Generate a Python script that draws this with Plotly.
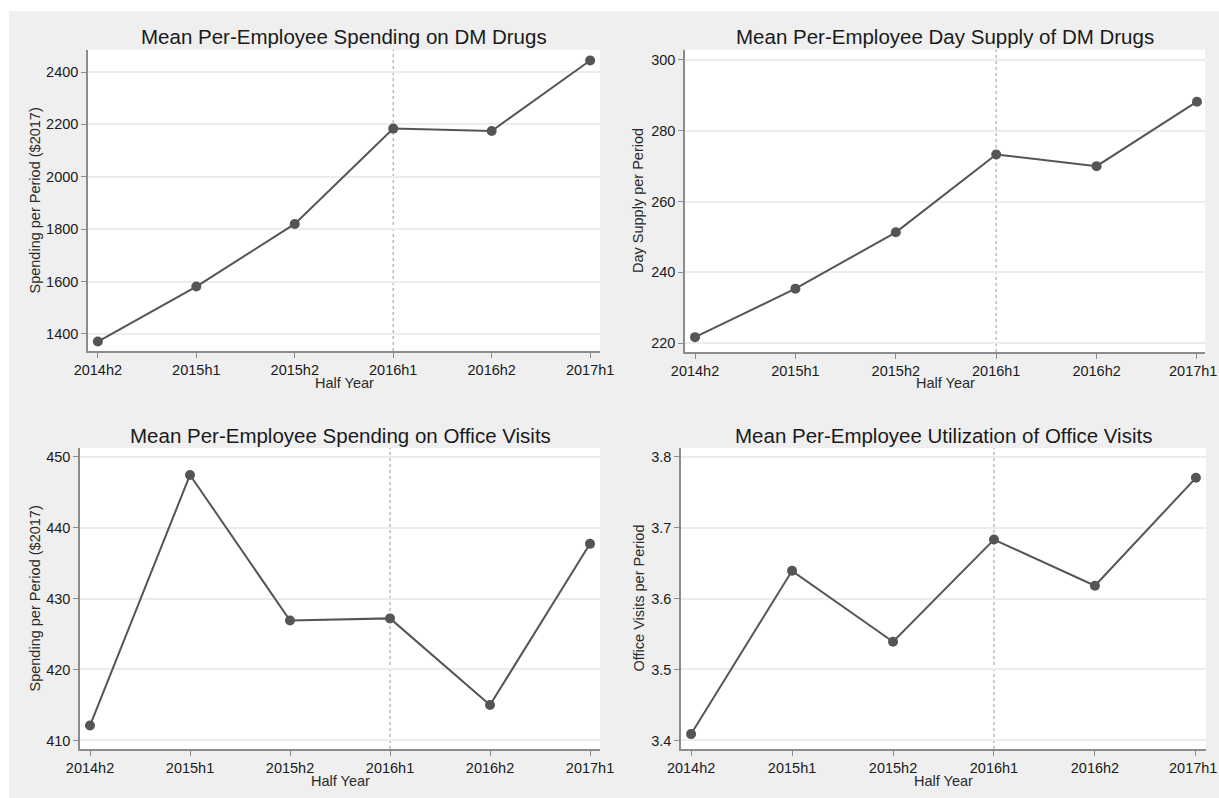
import plotly.graph_objects as go

# Half-year periods on the x axis
periods = ["2014h2", "2015h1", "2015h2", "2016h1", "2016h2", "2017h1"]
policy_period = "2016h1"

# Series values per half year
dm_spending = [1371, 1581, 1820, 2184, 2175, 2444]
dm_day_supply = [221.7, 235.4, 251.3, 273.3, 270.0, 288.2]
ov_spending = [412.1, 447.4, 426.9, 427.2, 415.0, 437.7]
ov_visits = [3.409, 3.639, 3.539, 3.683, 3.618, 3.770]

# Panel titles, y-axis titles and y ticks
panel_titles = [
    "Mean Per-Employee Spending on DM Drugs",
    "Mean Per-Employee Day Supply of DM Drugs",
    "Mean Per-Employee Spending on Office Visits",
    "Mean Per-Employee Utilization of Office Visits",
]
y_titles = [
    "Spending per Period ($2017)",
    "Day Supply per Period",
    "Spending per Period ($2017)",
    "Office Visits per Period",
]
y_ticks = [
    [1400, 1600, 1800, 2000, 2200, 2400],
    [220, 240, 260, 280, 300],
    [410, 420, 430, 440, 450],
    [3.4, 3.5, 3.6, 3.7, 3.8],
]
y_tick_text = [
    ["1400", "1600", "1800", "2000", "2200", "2400"],
    ["220", "240", "260", "280", "300"],
    ["410", "420", "430", "440", "450"],
    ["3.4", "3.5", "3.6", "3.7", "3.8"],
]
x_title = "Half Year"

series = [dm_spending, dm_day_supply, ov_spending, ov_visits]

W, H = 1219, 798
FONT = "Liberation Sans, Arial, sans-serif"
LINE = "#555555"
BG = "#efefef"
TICK_SIZE = 14.5

# Plot areas in pixels: (left, right, top, bottom)
boxes = [(88, 600, 50, 351), (685, 1205, 50, 352), (80, 600, 448, 749), (681, 1206, 448, 749)]
y_ranges = [[1335, 2484], [217.5, 302.8], [408.8, 451.2], [3.388, 3.812]]
x_ranges = [[-0.1, 5.1], [-0.1, 5.08], [-0.1, 5.1], [-0.1, 5.1]]
title_y_px = [37, 37, 435, 435]
ytitle_x_px = [35, 638, 34, 638]
xtitle_y_px = [383, 383, 781, 781]
# right-hand panels: the last x label sits flush with the page edge
flush_last_label = [False, True, False, True]

fig = go.Figure()
annotations = []
shapes = [
    # white strip along the top and left edges of the page
    dict(type="rect", xref="paper", yref="paper", x0=0, x1=1, y0=1 - 11 / H, y1=1,
         fillcolor="white", line_width=0, layer="below"),
    dict(type="rect", xref="paper", yref="paper", x0=0, x1=9 / W, y0=0, y1=1,
         fillcolor="white", line_width=0, layer="below"),
]
policy_idx = periods.index(policy_period)

for i, (vals, box) in enumerate(zip(series, boxes)):
    n = i + 1
    xa = "x" if n == 1 else f"x{n}"
    ya = "y" if n == 1 else f"y{n}"
    left, right, top, bottom = box
    fig.add_trace(go.Scatter(
        x=list(range(len(periods))), y=vals, xaxis=xa, yaxis=ya,
        mode="lines+markers",
        line=dict(color=LINE, width=2),
        marker=dict(color=LINE, size=10),
        showlegend=False,
        hoverinfo="x+y",
    ))
    axis_common = dict(
        showline=True, linecolor="#8c8c8c", linewidth=1.5,
        ticks="outside", tickcolor="#8c8c8c", ticklen=5, tickwidth=1.2,
        tickfont=dict(family=FONT, size=TICK_SIZE, color="#1a1a1a"),
        zeroline=False, automargin=False, ticklabeloverflow="allow",
    )
    x_text = list(periods)
    if flush_last_label[i]:
        x_text[-1] = ""
        annotations.append(dict(
            text=periods[-1], xref="paper", yref="paper",
            x=1, y=1 - (bottom + 19) / H, xanchor="right", yanchor="middle",
            showarrow=False, font=dict(family=FONT, size=TICK_SIZE, color="#1a1a1a"),
        ))
    fig.layout[f"xaxis{'' if n == 1 else n}"] = dict(
        domain=[left / W, right / W], anchor=ya,
        range=x_ranges[i], tickmode="array",
        tickvals=list(range(len(periods))), ticktext=x_text,
        showgrid=False, **axis_common,
    )
    fig.layout[f"yaxis{'' if n == 1 else n}"] = dict(
        domain=[1 - bottom / H, 1 - top / H], anchor=xa,
        range=y_ranges[i], tickmode="array",
        tickvals=y_ticks[i], ticktext=y_tick_text[i],
        showgrid=True, gridcolor="#ececec", gridwidth=2,
        **axis_common,
    )
    # dotted reference line at the policy period
    shapes.append(dict(
        type="line", xref=xa, yref=f"{ya} domain",
        x0=policy_idx, x1=policy_idx, y0=0, y1=1,
        line=dict(color="#aaaaaa", width=1.2, dash="dot"), layer="below",
    ))
    cx = (left + right) / 2 / W
    annotations.append(dict(
        text=panel_titles[i], xref="paper", yref="paper",
        x=cx, y=1 - title_y_px[i] / H, xanchor="center", yanchor="middle",
        showarrow=False, font=dict(family=FONT, size=20.5, color="#1a1a1a"),
    ))
    annotations.append(dict(
        text=x_title, xref="paper", yref="paper",
        x=cx, y=1 - xtitle_y_px[i] / H, xanchor="center", yanchor="middle",
        showarrow=False, font=dict(family=FONT, size=14.5, color="#2a2a2a"),
    ))
    annotations.append(dict(
        text=y_titles[i], xref="paper", yref="paper", textangle=-90,
        x=ytitle_x_px[i] / W, y=1 - (top + bottom) / 2 / H,
        xanchor="center", yanchor="middle",
        showarrow=False, font=dict(family=FONT, size=14.5, color="#2a2a2a"),
    ))

fig.update_layout(
    width=W, height=H,
    margin=dict(l=0, r=0, t=0, b=0, autoexpand=False),
    paper_bgcolor=BG, plot_bgcolor="white",
    annotations=annotations, shapes=shapes,
    showlegend=False,
)

fig.write_html("out.html", config={"responsive": False})
